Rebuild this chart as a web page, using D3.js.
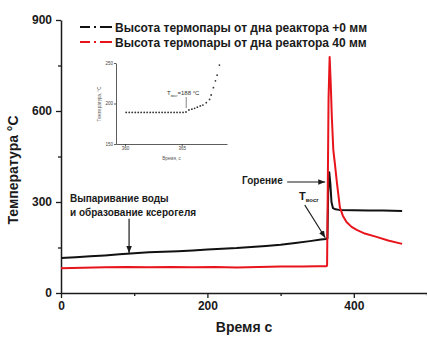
<!DOCTYPE html>
<html>
<head>
<meta charset="utf-8">
<style>
  body { margin: 0; background: #fff; }
  svg { display: block; font-family: "Liberation Sans", Arial, sans-serif; }
</style>
</head>
<body>
<div id="chart"></div>
<script src="https://d3js.org/d3.v7.min.js"></script>
<script>
// data
var timeBlack = [0, 20, 40, 60, 80, 100, 120, 140, 160, 180, 200, 220, 240, 260, 280, 300, 320, 340, 355, 362, 364, 365, 366.5, 368, 369.5, 371.5, 375, 380, 400, 420, 440, 466];
var tempBlack = [115, 118, 121, 124, 128, 131, 134, 136, 138, 140, 143, 146, 148, 152, 155, 159, 165, 171, 176, 178, 180, 330, 398, 360, 300, 280, 276, 274, 273, 272, 272, 270];

var timeRed = [0, 30, 60, 90, 120, 150, 180, 210, 240, 270, 300, 330, 350, 362, 363.5, 365.5, 367, 368.5, 370, 372, 374, 377, 381, 385, 390, 397, 404, 415, 431, 447, 466];
var tempRed = [82, 83, 85, 86, 85, 86, 85, 86, 84, 86, 87, 87, 88, 88, 90, 640, 778, 690, 580, 472, 430, 362, 282, 255, 234, 218, 208, 196, 185, 173, 162];

var seriesNames = ["Высота термопары от дна реактора +0 мм", "Высота термопары от дна реактора 40 мм"];
var seriesColors = ["#111111", "#e8141b"];

var xTicks = [0, 200, 400];
var xMinor = [100, 300, 500];
var yTicks = [0, 300, 600, 900];
var yMinor = [150, 450, 750];

// inset (zoom around ignition)
var insetTime = [360.1, 360.37, 360.63, 360.9, 361.16, 361.42, 361.69, 361.95, 362.22, 362.48, 362.74, 363.01, 363.27, 363.53, 363.8, 364.06, 364.33, 364.59, 364.85, 365.12, 365.38,
                 365.64, 365.9, 366.14, 366.38, 366.64, 366.87, 367.17, 367.46, 367.6, 367.8, 367.98, 368.13, 368.33];
var insetTemp = [189, 189, 189, 189, 189, 189, 189, 189, 189, 189, 189, 189, 189, 189, 189, 189, 189, 189, 189, 189, 189.5,
                 192, 193, 194, 195.5, 197, 198, 201, 205, 210.5, 219.5, 228, 235, 247.5];
var insetXTicks = [360, 365];
var insetYTicks = [150, 200, 250];

var W = 427, H = 338;
var svg = d3.select("#chart").append("svg").attr("width", W).attr("height", H);

var x = d3.scaleLinear().domain([0, 500]).range([61, 427]);
var y = d3.scaleLinear().domain([0, 900]).range([293, 20]);

var ink = "#1a1a1a";

// axes
var gx = svg.append("g").attr("transform", "translate(0," + y(0) + ")")
  .call(d3.axisBottom(x).tickValues(xTicks).tickSize(5).tickPadding(3).tickSizeOuter(0));
var gxm = svg.append("g").attr("transform", "translate(0," + y(0) + ")")
  .call(d3.axisBottom(x).tickValues(xMinor).tickSize(3).tickFormat("").tickSizeOuter(0));
var gy = svg.append("g").attr("transform", "translate(" + x(0) + ",0)")
  .call(d3.axisLeft(y).tickValues(yTicks).tickSize(5).tickPadding(4).tickSizeOuter(0));
var gym = svg.append("g").attr("transform", "translate(" + x(0) + ",0)")
  .call(d3.axisLeft(y).tickValues(yMinor).tickSize(3).tickFormat("").tickSizeOuter(0));

[gx, gxm, gy, gym].forEach(function(g) {
  g.selectAll("path").attr("stroke", ink).attr("stroke-width", 1.5);
  g.selectAll("line").attr("stroke", ink).attr("stroke-width", 1.3);
  g.selectAll("text").attr("fill", ink).style("font-size", "12px").style("font-weight", "bold");
});
gym.select("path").remove();
gxm.select("path").remove();

svg.append("text")
  .attr("x", (x(0) + 427) / 2).attr("y", 332)
  .attr("text-anchor", "middle").style("font-size", "14px").style("font-weight", "bold").attr("fill", ink)
  .text("Время с");

svg.append("text")
  .attr("transform", "translate(18,170) rotate(-90)")
  .attr("text-anchor", "middle").style("font-size", "14px").style("font-weight", "bold").attr("fill", ink)
  .text("Температура °C");

// lines
var line = d3.line().x(function(d) { return x(d[0]); }).y(function(d) { return y(d[1]); });
var blackData = d3.zip(timeBlack, tempBlack);
var redData = d3.zip(timeRed, tempRed);

svg.append("path").datum(blackData).attr("d", line)
  .attr("fill", "none").attr("stroke", seriesColors[0]).attr("stroke-width", 2).attr("stroke-linejoin", "round");
svg.append("path").datum(redData).attr("d", line)
  .attr("fill", "none").attr("stroke", seriesColors[1]).attr("stroke-width", 2).attr("stroke-linejoin", "round");

// legend
var legend = svg.append("g").selectAll("g").data(seriesNames).enter().append("g")
  .attr("transform", function(d, i) { return "translate(80," + (27 + i * 15) + ")"; });
legend.append("line").attr("x1", 0).attr("x2", 32).attr("y1", 0).attr("y2", 0)
  .attr("stroke", function(d, i) { return seriesColors[i]; })
  .attr("stroke-width", 2).attr("stroke-dasharray", "10,4,2,4,12");
legend.append("text").attr("x", 35).attr("y", 4.5)
  .style("font-size", "12px").style("font-weight", "bold").attr("fill", ink)
  .text(function(d) { return d; });

// arrows
var defs = svg.append("defs");
defs.append("marker").attr("id", "ah").attr("viewBox", "0 0 10 10").attr("refX", 10).attr("refY", 5)
  .attr("markerWidth", 7).attr("markerHeight", 7).attr("orient", "auto").attr("markerUnits", "userSpaceOnUse")
  .append("path").attr("d", "M0,1 L10,5 L0,9 Z").attr("fill", ink);

function arrow(t1, v1, t2, v2) {
  svg.append("line").attr("x1", x(t1)).attr("y1", y(v1)).attr("x2", x(t2)).attr("y2", y(v2))
    .attr("stroke", ink).attr("stroke-width", 1.2).attr("marker-end", "url(#ah)");
}

var ann = svg.append("g").style("font-size", "10px").style("font-weight", "bold").attr("fill", ink);
ann.append("text").attr("x", 70).attr("y", 202).text("Выпаривание воды");
ann.append("text").attr("x", 70).attr("y", 216).text("и образование ксерогеля");
arrow(93, 245, 93, 132);

ann.append("text").attr("x", 242).attr("y", 184).text("Горение");
arrow(309, 366, 361, 366);

var tv = svg.append("text").attr("x", 299).attr("y", 200).attr("fill", ink).style("font-weight", "bold");
tv.append("tspan").style("font-size", "11px").text("T");
tv.append("tspan").attr("dy", 2).style("font-size", "6px").text("восг");
arrow(333, 290, 361, 182);

// inset
var ix = d3.scaleLinear().domain([359.2, 369]).range([116, 227]);
var iy = d3.scaleLinear().domain([150, 250]).range([144, 63]);
var inset = svg.append("g");
var igx = inset.append("g").attr("transform", "translate(0,144)")
  .call(d3.axisBottom(ix).tickValues(insetXTicks).tickSize(2).tickPadding(1).tickSizeOuter(0));
var igy = inset.append("g").attr("transform", "translate(116,0)")
  .call(d3.axisLeft(iy).tickValues(insetYTicks).tickSize(2).tickPadding(1).tickSizeOuter(0));
[igx, igy].forEach(function(g) {
  g.selectAll("path").attr("stroke", "#333").attr("stroke-width", 0.8);
  g.selectAll("line").attr("stroke", "#333").attr("stroke-width", 0.8);
  g.selectAll("text").attr("fill", "#444").style("font-size", "4.5px");
});
inset.selectAll("circle").data(d3.zip(insetTime, insetTemp)).enter().append("circle")
  .attr("cx", function(d) { return ix(d[0]); }).attr("cy", function(d) { return iy(d[1]); })
  .attr("r", 0.9).attr("fill", "#333");
inset.append("text").attr("x", (116 + 227) / 2).attr("y", 160).attr("text-anchor", "middle")
  .style("font-size", "4.5px").attr("fill", "#555").text("Время, с");
inset.append("text").attr("transform", "translate(101,104) rotate(-90)").attr("text-anchor", "middle")
  .style("font-size", "4.5px").attr("fill", "#555").text("Температура, °С");
var il = inset.append("text").attr("x", 167).attr("y", 95).attr("fill", "#333").style("font-size", "6px");
il.append("tspan").text("T");
il.append("tspan").attr("dy", 1.5).style("font-size", "3.5px").text("восг");
il.append("tspan").attr("dy", -1.5).text("=188 °C");
inset.append("line").attr("x1", ix(365.4)).attr("x2", ix(365.4)).attr("y1", 97).attr("y2", 108)
  .attr("stroke", "#333").attr("stroke-width", 0.6);
</script>
</body>
</html>
